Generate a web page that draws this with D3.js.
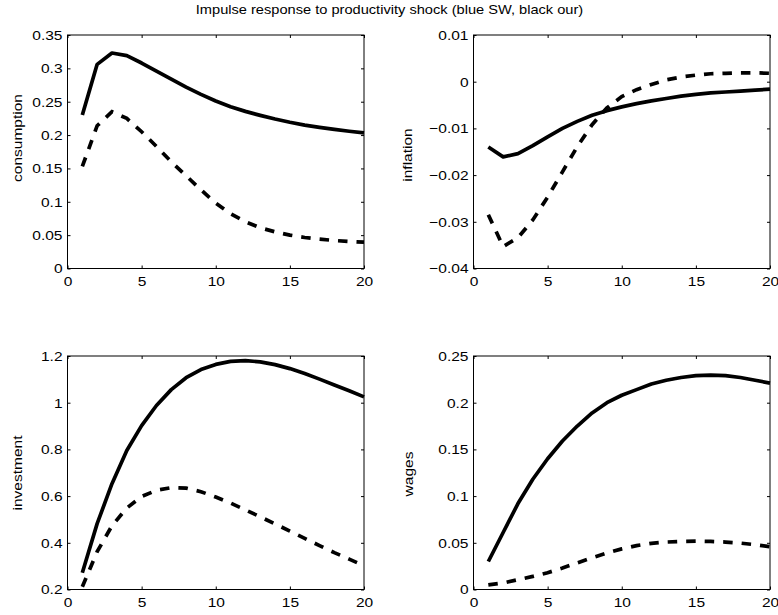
<!DOCTYPE html>
<html>
<head>
<meta charset="utf-8">
<script src="https://cdn.jsdelivr.net/npm/d3@7"></script>
<style>
  body { margin: 0; background: #fff; }
  svg { display: block; }
  text { font-family: "Liberation Sans", Arial, Helvetica, sans-serif; fill: #000; }
</style>
</head>
<body>
<script>
// Horizon (quarters after the shock)
const periods = d3.range(1, 21);
const xTicks = [0, 5, 10, 15, 20];

// Impulse responses: solid and dashed model variants
const consumptionSolid = [0.230, 0.306, 0.323, 0.319, 0.308, 0.296, 0.284, 0.272, 0.261, 0.251,
                          0.2425, 0.2355, 0.2295, 0.224, 0.2192, 0.215, 0.2115, 0.2085, 0.2057, 0.2032];
const consumptionDashed = [0.153, 0.214, 0.235, 0.225, 0.205, 0.183, 0.160, 0.139, 0.118, 0.098,
                           0.082, 0.070, 0.061, 0.055, 0.050, 0.0465, 0.044, 0.042, 0.0405, 0.0395];

const inflationSolid = [-0.0140, -0.0161, -0.0154, -0.0137, -0.0118, -0.0100, -0.0085, -0.0072, -0.0062, -0.0054,
                        -0.0047, -0.0041, -0.0036, -0.0031, -0.0027, -0.0024, -0.0022, -0.0020, -0.0018, -0.0016];
const inflationDashed = [-0.0285, -0.0353, -0.0334, -0.0296, -0.0247, -0.0193, -0.0139, -0.0092, -0.0056, -0.0032,
                         -0.0017, -0.0006, 0.0004, 0.0010, 0.0014, 0.0017, 0.0018, 0.0019, 0.0019, 0.0018];

const investmentSolid = [0.272, 0.482, 0.653, 0.795, 0.902, 0.988, 1.056, 1.107, 1.142, 1.164,
                         1.177, 1.180, 1.175, 1.163, 1.146, 1.125, 1.101, 1.076, 1.051, 1.025];
const investmentDashed = [0.212, 0.362, 0.473, 0.549, 0.598, 0.625, 0.636, 0.634, 0.619, 0.596,
                          0.570, 0.541, 0.511, 0.481, 0.450, 0.419, 0.388, 0.358, 0.330, 0.302];

const wagesSolid = [0.030, 0.061, 0.092, 0.118, 0.140, 0.159, 0.175, 0.189, 0.200, 0.208,
                    0.214, 0.220, 0.224, 0.227, 0.229, 0.2295, 0.229, 0.227, 0.224, 0.221];
const wagesDashed = [0.005, 0.007, 0.0105, 0.014, 0.018, 0.023, 0.0285, 0.034, 0.039, 0.0435,
                     0.047, 0.0494, 0.0508, 0.0515, 0.0518, 0.0515, 0.0508, 0.0497, 0.048, 0.0458];

// Y axis ranges and tick labels for each panel
const consumptionTicks = [0, 0.05, 0.1, 0.15, 0.2, 0.25, 0.3, 0.35];
const inflationTicks = [-0.04, -0.03, -0.02, -0.01, 0, 0.01];
const investmentTicks = [0.2, 0.4, 0.6, 0.8, 1, 1.2];
const wagesTicks = [0, 0.05, 0.1, 0.15, 0.2, 0.25];

const titleText = "Impulse response to productivity shock (blue SW, black our)";

// Page geometry
const W = 778, H = 615;
const colLeft = [67.5, 473.5];
const rowTop = [35, 356];
const plotW = 296.5, plotH = 233.5;
const tickStretch = 1.15;   // glyph width factor for axis text
const titleStretch = 1.17;

const panels = [
  { label: "consumption", solid: consumptionSolid, dashed: consumptionDashed, ticks: consumptionTicks,
    col: 0, row: 0, labelX: 21.5, labelY: 138 },
  { label: "inflation", solid: inflationSolid, dashed: inflationDashed, ticks: inflationTicks,
    col: 1, row: 0, labelX: 411.5, labelY: 155 },
  { label: "investment", solid: investmentSolid, dashed: investmentDashed, ticks: investmentTicks,
    col: 0, row: 1, labelX: 22, labelY: 473 },
  { label: "wages", solid: wagesSolid, dashed: wagesDashed, ticks: wagesTicks,
    col: 1, row: 1, labelX: 413, labelY: 474 }
];

const fmt = v => {
  const s = String(+v.toFixed(4));
  return s.replace("-", "\u2212");
};

const svg = d3.select("body").append("svg")
  .attr("width", W).attr("height", H);

svg.append("rect").attr("width", W).attr("height", H).attr("fill", "#fff");

svg.append("text")
  .attr("transform", `translate(389.5,14) scale(${titleStretch},1)`)
  .attr("text-anchor", "middle")
  .attr("font-size", 12.5)
  .text(titleText);

panels.forEach(p => {
  const x0 = colLeft[p.col], y0 = rowTop[p.row];
  const g = svg.append("g").attr("transform", `translate(${x0},${y0})`);

  const x = d3.scaleLinear().domain([0, 20]).range([0, plotW]);
  const yExt = d3.extent(p.ticks);
  const y = d3.scaleLinear().domain(yExt).range([plotH, 0]);

  // Curves
  const line = d3.line().x((d, i) => x(periods[i])).y(d => y(d));
  g.append("path").datum(p.dashed)
    .attr("d", line).attr("fill", "none").attr("stroke", "#000")
    .attr("stroke-width", 3.7).attr("stroke-dasharray", "9.5,9");
  g.append("path").datum(p.solid)
    .attr("d", line).attr("fill", "none").attr("stroke", "#000")
    .attr("stroke-width", 3.7).attr("stroke-linejoin", "round");

  // Axes with inward ticks on all four sides
  const fs = 13.5;
  const gx = g.append("g").attr("transform", `translate(0,${plotH})`)
    .call(d3.axisBottom(x).tickValues(xTicks).tickSize(-3).tickPadding(7.5).tickFormat(fmt));
  const gy = g.append("g")
    .call(d3.axisLeft(y).tickValues(p.ticks).tickSize(-3).tickPadding(5 / tickStretch).tickFormat(fmt));
  g.append("g").call(d3.axisTop(x).tickValues(xTicks).tickSize(-3).tickFormat(""));
  g.append("g").attr("transform", `translate(${plotW},0)`)
    .call(d3.axisRight(y).tickValues(p.ticks).tickSize(-3).tickFormat(""));

  g.selectAll(".domain").remove();
  g.selectAll(".tick line").attr("stroke", "#000").attr("stroke-width", 1);
  [gx, gy].forEach(a => a.selectAll("text")
    .attr("font-size", fs)
    .attr("font-family", "Liberation Sans, Arial, sans-serif")
    .attr("fill", "#000")
    .attr("transform", `scale(${tickStretch},1)`));

  g.append("rect")
    .attr("width", plotW).attr("height", plotH)
    .attr("fill", "none").attr("stroke", "#000").attr("stroke-width", 1);

  svg.append("text")
    .attr("transform", `translate(${p.labelX},${p.labelY}) rotate(-90) scale(${tickStretch},1)`)
    .attr("text-anchor", "middle")
    .attr("font-size", fs)
    .text(p.label);
});
</script>
</body>
</html>
